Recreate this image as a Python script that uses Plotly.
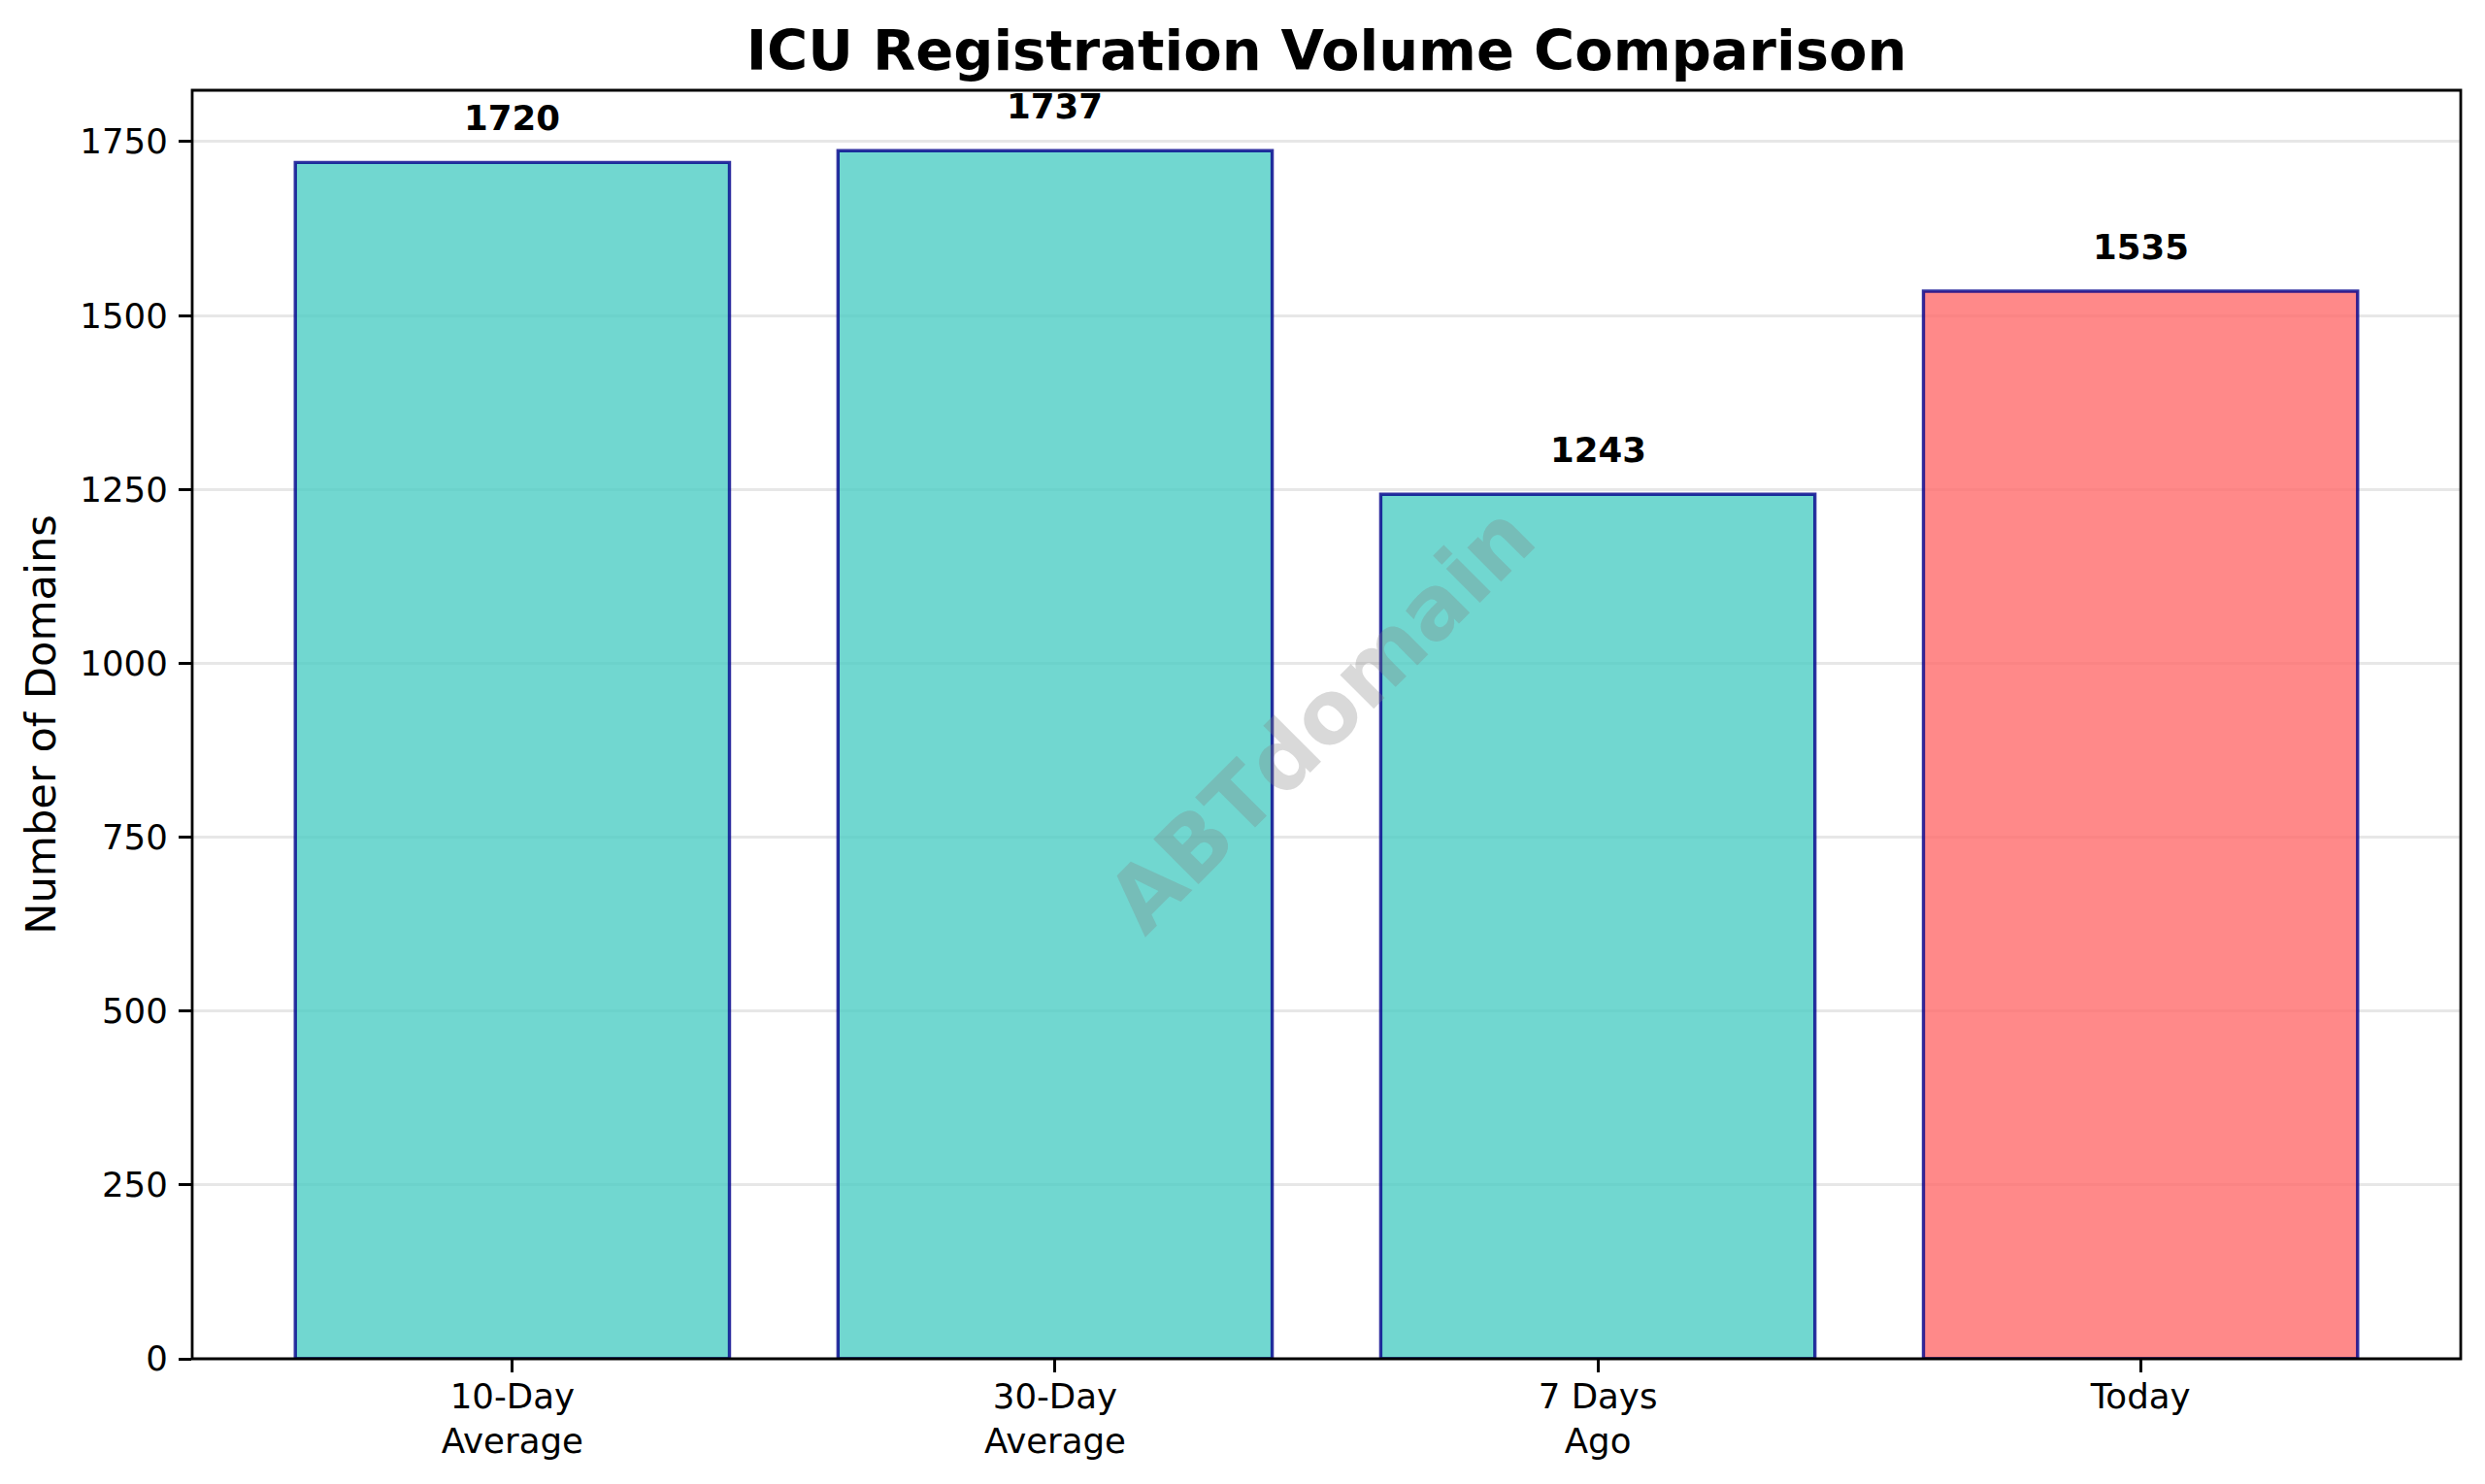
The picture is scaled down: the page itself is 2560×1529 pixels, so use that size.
import plotly.graph_objects as go

categories = ["10-Day<br>Average", "30-Day<br>Average", "7 Days<br>Ago", "Today"]
values = [1720, 1737, 1243, 1535]
bar_colors = ["rgba(78,205,196,0.8)", "rgba(78,205,196,0.8)", "rgba(78,205,196,0.8)", "rgba(255,107,107,0.8)"]
y_ticks = [0, 250, 500, 750, 1000, 1250, 1500, 1750]

FONT = "DejaVu Sans"
W, H = 2560, 1529
L, R, T, B = 198, 2535, 93, 1400

fig = go.Figure(go.Bar(
    x=categories, y=values, width=0.8,
    marker=dict(color=bar_colors, line=dict(color="rgba(0,0,139,0.8)", width=3.4)),
    hoverinfo="x+y",
))

for c, v in zip(categories, values):
    fig.add_annotation(x=c, y=v, xref="x", yref="y", text=f"<b>{v}</b>", showarrow=False,
                       yanchor="bottom", yshift=23,
                       font=dict(family=FONT, size=35.6, color="black"))

fig.add_annotation(x=0.5, y=0.5, xref="paper", yref="paper", text="<b>ABTdomain</b>", showarrow=False,
                   textangle=-45, xanchor="center", yanchor="middle", xshift=-6, yshift=6,
                   font=dict(family=FONT, size=90, color="rgba(128,128,128,0.3)"))

# axes frame centred on the plot edges
fig.add_shape(type="rect", xref="paper", yref="paper", x0=0, x1=1, y0=0, y1=1,
              line=dict(color="black", width=2.8), fillcolor="rgba(0,0,0,0)", layer="above")

axis_common = dict(showline=False, ticks="outside", ticklen=13, tickwidth=2.8, tickcolor="black",
                   tickfont=dict(family=FONT, size=35.6, color="black"), zeroline=False)

fig.update_layout(
    width=W, height=H, autosize=False, showlegend=False,
    paper_bgcolor="white", plot_bgcolor="white",
    margin=dict(l=L, r=W - R, t=T, b=H - B, pad=0),
    font=dict(family=FONT, color="black"),
    title=dict(text="<b>ICU Registration Volume Comparison</b>", x=(L + R) / 2 / W, xanchor="center",
               y=1 - 52 / H, yanchor="middle", font=dict(family=FONT, size=57.5, color="black")),
    xaxis=dict(type="category", categoryorder="array", categoryarray=categories, range=[-0.59, 3.59],
               showgrid=False, ticklabelstandoff=-6, **axis_common),
    yaxis=dict(range=[0, 1823.85], tickvals=y_ticks, tickformat="d", showgrid=True,
               gridcolor="rgba(176,176,176,0.3)", gridwidth=2.8, ticklabelstandoff=4,
               title=dict(text="Number of Domains", font=dict(family=FONT, size=43.2, color="black"), standoff=11),
               **axis_common),
)

fig.write_html("out.html", post_script="document.body.style.margin='0';",
               config=dict(displayModeBar=False))
